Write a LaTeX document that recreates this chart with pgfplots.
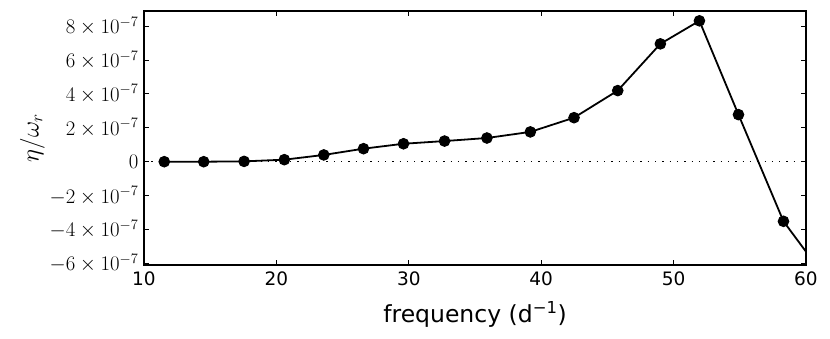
\documentclass[border=0pt]{standalone}
\usepackage{fontspec}
\setmainfont{DejaVu Sans}
\usepackage{pgfplots}
\pgfplotsset{compat=1.18}

\begin{document}
\begin{tikzpicture}
\begin{axis}[
    scale only axis, width=662pt, height=254pt,
    xmin=10, xmax=60, ymin=-6.1e-7, ymax=8.9e-7,
    xtick={10,20,30,40,50,60},
    ytick={-6e-7,-4e-7,-2e-7,0,2e-7,4e-7,6e-7,8e-7},
    yticklabels={$-6\times10^{-7}$,$-4\times10^{-7}$,$-2\times10^{-7}$,$0$,
                 $2\times10^{-7}$,$4\times10^{-7}$,$6\times10^{-7}$,$8\times10^{-7}$},
    scaled y ticks=false,
    /pgf/number format/assume math mode=true,
    axis line style={line width=1.3pt},
    major tick length=5pt,
    every tick/.style={black, line width=1pt},
    xticklabel style={font=\fontsize{18.5}{20}\selectfont, yshift=-3pt},
    yticklabel style={font=\fontsize{19.5}{22}\selectfont, xshift=-2pt},
    xlabel={frequency (d\textsuperscript{−1})},
    xlabel style={font=\fontsize{23.5}{26}\selectfont, yshift=-9pt},
    ylabel={$\eta/\omega_r$},
    ylabel style={font=\fontsize{25}{28}\selectfont, yshift=-2pt},
]
\addplot[black, line width=1.3pt, dash pattern=on 1.3pt off 6pt] coordinates {(10,0) (60,0)};
\addplot[black, line width=1.8pt, mark=*, mark size=5.3pt, mark options={solid, fill=black, draw=black, line width=1pt}] coordinates {
(11.53,0) (14.51,0) (17.56,2e-9) (20.6,1.2e-8) (23.58,4.0e-8) (26.58,7.7e-8)
(29.6,1.06e-7) (32.7,1.22e-7) (35.9,1.40e-7) (39.18,1.76e-7) (42.48,2.60e-7)
(45.78,4.20e-7) (49.0,6.96e-7) (51.95,8.32e-7) (54.9,2.78e-7) (58.3,-3.52e-7)
(61.6,-7.0e-7)
};
\end{axis}
\path (-144pt,-73pt) rectangle (686pt,265pt);
\end{tikzpicture}
\end{document}
